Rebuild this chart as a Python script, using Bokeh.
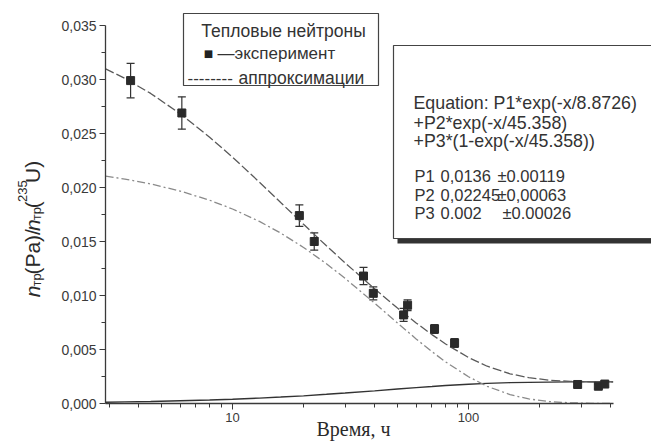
import numpy as np
from bokeh.plotting import figure
from bokeh.layouts import row
from bokeh.core.properties import value
from bokeh.models import (Range1d, FixedTicker, CustomJSTickFormatter, ColumnDataSource,
                          Whisker, TeeHead, Label, BoxAnnotation)
from bokeh.embed import file_html
from bokeh.resources import INLINE

# ---------------- data ----------------
time_h = [3.7, 6.1, 19.2, 22.2, 35.9, 39.5, 53.1, 55.2, 71.8, 87.3, 290, 355, 378]
ratio = [0.0299, 0.0269, 0.0174, 0.0150, 0.0118, 0.0102, 0.0082, 0.0091,
         0.0069, 0.0056, 0.00176, 0.0016, 0.0018]
ratio_err = [0.0016, 0.0015, 0.0010, 0.0008, 0.0008, 0.0006, 0.0006, 0.0005,
             0.0004, 0.0004, 0.0002, 0.0002, 0.0002]

curve_t = [2.9, 3.5, 4.5, 6, 8, 10, 13, 16, 20, 25, 30, 40, 50, 60, 70, 80,
           100, 120, 150, 180, 220, 270, 330, 410]
fit_total = [0.03099, 0.03010, 0.02871, 0.02683, 0.02466, 0.02281, 0.02050, 0.01861,
             0.01659, 0.01460, 0.01302, 0.01062, 0.00884, 0.00746, 0.00638, 0.00551,
             0.00426, 0.00345, 0.00275, 0.00239, 0.00216, 0.00205, 0.00201, 0.00200]
fit_p2 = [0.02106, 0.02078, 0.02033, 0.01967, 0.01882, 0.01801, 0.01686, 0.01578,
          0.01445, 0.01294, 0.01159, 0.00929, 0.00746, 0.00598, 0.00480, 0.00385,
          0.00248, 0.00159, 0.00082, 0.00042, 0.00018, 0.00006, 0.00002, 0.00000]
fit_p3 = [0.00012, 0.00015, 0.00019, 0.00025, 0.00032, 0.00040, 0.00050, 0.00060,
          0.00071, 0.00085, 0.00097, 0.00117, 0.00134, 0.00147, 0.00157, 0.00166,
          0.00178, 0.00186, 0.00193, 0.00196, 0.00198, 0.00200, 0.00200, 0.00200]

y_ticks = [0.0, 0.005, 0.010, 0.015, 0.020, 0.025, 0.030, 0.035]
y_minor = [0.0025, 0.0075, 0.0125, 0.0175, 0.0225, 0.0275, 0.0325]
x_ticks = [10, 100]
x_minor = [3, 4, 5, 6, 7, 8, 9, 20, 30, 40, 50, 60, 70, 80, 90, 200, 300, 400]

legend_title = "Тепловые нейтроны"
legend_exp = "—эксперимент"
legend_fit = "аппроксимации"
eq_lines = ["Equation: P1*exp(-x/8.8726)", "+P2*exp(-x/45.358)", "+P3*(1-exp(-x/45.358))"]
par_names = ["P1", "P2", "P3"]
par_vals = ["0,0136", "0,02245", "0.002"]
par_errs = ["±0.00119", "±0,00063", "±0.00026"]
x_label = "Время, ч"
# y label pieces: (text, role) -> n_тр(Pa)/n_тр(^235U)
y_label_parts = [("n", "it"), ("тр", "sub"), ("(Pa)/", "main"), ("n", "it"),
                 ("тр", "sub"), ("(", "main"), ("235", "sup"), ("U)", "main")]

# ---------------- layout geometry ----------------
W, H = 651, 444
YW = 45                                     # width of the strip holding the y title
FL, FR, FT, FB = 105, 651, 0, 403          # frame edges in canvas px
DEC = 236.0                                 # px per decade
X10 = 232.0                                 # px of x=10
x_lo = 10 ** (1 - (X10 - FL) / DEC)
x_hi = 10 ** (np.log10(x_lo) + (FR - FL) / DEC)
YPU = 10800.0                               # px per unit of y
y_hi = (FB - FT) / YPU


def px_x(px):
    return 10 ** (np.log10(x_lo) + (px - FL) / DEC)


def px_y(py):
    return (FB - py) / YPU


p = figure(width=W - YW, height=H, x_axis_type="log",
           x_range=Range1d(x_lo, x_hi), y_range=Range1d(0, y_hi),
           output_backend="svg", toolbar_location=None, title=None,
           min_border_left=FL - YW, min_border_right=W - FR,
           min_border_top=FT, min_border_bottom=H - FB)
p.outline_line_color = None
p.background_fill_color = "white"
p.border_fill_color = "white"
p.xgrid.visible = False
p.ygrid.visible = False

AX = "#3a3a3a"
for ax in (p.xaxis[0], p.yaxis[0]):
    ax.axis_line_color = AX
    ax.axis_line_width = 1.3
    ax.major_tick_line_color = AX
    ax.minor_tick_line_color = AX
    ax.major_tick_in = 0
    ax.minor_tick_in = 0
    ax.major_label_text_color = "#3a3a3a"
    ax.major_label_text_font = "Liberation Sans"

p.xaxis.ticker = FixedTicker(ticks=x_ticks, minor_ticks=x_minor)
p.xaxis.formatter = CustomJSTickFormatter(code="return tick.toFixed(0)")
p.xaxis.bounds = (x_lo, 410)
p.xaxis.major_tick_out = 6
p.xaxis.minor_tick_out = 4
p.xaxis.major_label_text_font_size = "13px"
p.xaxis.major_label_standoff = 3
# the axis title is centred on the frame; non-breaking spaces shift it left
p.xaxis.axis_label = x_label + "\u00a0" * 10
p.xaxis.axis_label_text_font = "Liberation Serif"
p.xaxis.axis_label_text_font_style = "normal"
p.xaxis.axis_label_text_font_size = "20px"
p.xaxis.axis_label_text_color = "#2a2a2a"
p.xaxis.axis_label_standoff = -7

p.yaxis.ticker = FixedTicker(ticks=y_ticks, minor_ticks=y_minor)
p.yaxis.formatter = CustomJSTickFormatter(code="return tick.toFixed(3).replace('.', ',')")
p.yaxis.bounds = (0, 0.035)
p.yaxis.major_tick_out = 6
p.yaxis.minor_tick_out = 4
p.yaxis.major_label_text_font_size = "14px"
p.yaxis.major_label_standoff = 3

# ---------------- curves ----------------
p.line(curve_t, fit_p3, line_color="#333333", line_width=1.4)
p.line(curve_t, fit_p2, line_color="#8a8a8a", line_width=1.3, line_dash="8 3 2 3")
p.line(curve_t, fit_total, line_color="#5a5a5a", line_width=1.3, line_dash="9 3")

# ---------------- experiment points ----------------
lo = [r - e for r, e in zip(ratio, ratio_err)]
hi = [r + e for r, e in zip(ratio, ratio_err)]
src = ColumnDataSource(dict(t=time_h, r=ratio, lo=lo, hi=hi))
p.add_layout(Whisker(base="t", upper="hi", lower="lo", source=src,
                     line_color="#333333", line_width=1.2,
                     upper_head=TeeHead(size=8, line_color="#333333", line_width=1.2),
                     lower_head=TeeHead(size=8, line_color="#333333", line_width=1.2)))
p.scatter("t", "r", source=src, marker="square", size=8,
          fill_color="#2a2a2a", line_color="#2a2a2a")

# ---------------- legend box ----------------
p.add_layout(BoxAnnotation(left=px_x(183), right=px_x(378), top=px_y(13), bottom=px_y(85),
                           fill_color="white", fill_alpha=1, line_color="#444444",
                           line_alpha=1, line_width=1.2))
TXT = dict(text_font="Liberation Sans", text_color="#333333", text_baseline="middle")
p.add_layout(Label(x=px_x(283), y=px_y(30), text=legend_title, text_align="center",
                   text_font_size="17.5px", **TXT))
p.add_layout(Label(x=px_x(208), y=px_y(53), text="■", text_align="center",
                   text_font_size="10px", text_font="DejaVu Sans", text_color="#222222",
                   text_baseline="middle"))
p.add_layout(Label(x=px_x(217), y=px_y(53), text=legend_exp, text_align="left",
                   text_font_size="17px", **TXT))
p.add_layout(Label(x=px_x(187), y=px_y(77), text="--------", text_align="left",
                   text_font_size="17px", **TXT))
p.add_layout(Label(x=px_x(238), y=px_y(77), text=legend_fit, text_align="left",
                   text_font_size="17.5px", **TXT))

# ---------------- equation box ----------------
p.add_layout(BoxAnnotation(left=px_x(397), right=px_x(720), top=px_y(49), bottom=px_y(243),
                           fill_color="#333333", fill_alpha=1, line_color=None))
p.add_layout(BoxAnnotation(left=px_x(393), right=px_x(710), top=px_y(45), bottom=px_y(238),
                           fill_color="white", fill_alpha=1, line_color="#444444",
                           line_alpha=1, line_width=1.2))
for txt, yy in zip(eq_lines, [102, 122, 140]):
    p.add_layout(Label(x=px_x(413), y=px_y(yy), text=txt, text_align="left",
                       text_font_size="17.8px", **TXT))
for n, v, e, yy, ex in zip(par_names, par_vals, par_errs, [175, 194, 212], [497, 497, 502]):
    p.add_layout(Label(x=px_x(414), y=px_y(yy), text=n, text_align="left",
                       text_font_size="16.5px", **TXT))
    p.add_layout(Label(x=px_x(440), y=px_y(yy), text=v, text_align="left",
                       text_font_size="16.5px", **TXT))
    p.add_layout(Label(x=px_x(ex), y=px_y(yy), text=e, text_align="left",
                       text_font_size="16.5px", **TXT))

# ---------------- y title strip (left) ----------------
q = figure(width=YW, height=H, x_range=Range1d(0, YW), y_range=Range1d(0, H),
           output_backend="svg", toolbar_location=None, title=None,
           x_axis_location=None, y_axis_location=None,
           min_border_left=0, min_border_right=0, min_border_top=0, min_border_bottom=0)
q.outline_line_color = None
q.background_fill_color = "white"
q.border_fill_color = "white"
q.xgrid.visible = False
q.ygrid.visible = False

role_style = {"main": (32, "21px", "normal"),
              "it": (32, "21px", "italic"),
              "sub": (36, "13px", "normal"),
              "sup": (22, "13px", "normal")}
advance = [12, 13, 48, 12, 13, 7, 21, 22]     # px advance of each piece along the title
ypos = 327
for (t, role), adv in zip(y_label_parts, advance):
    bx, fs, st = role_style[role]
    q.text(x=[bx], y=[H - ypos], text=[t], angle=np.pi / 2,
           text_align="left", text_baseline="alphabetic",
           text_font=value("Liberation Sans"), text_font_style=st,
           text_font_size=value(fs), text_color="#2a2a2a")
    ypos -= adv

layout = row(q, p, spacing=0)
open("out.html", "w").write(file_html(layout, INLINE))
